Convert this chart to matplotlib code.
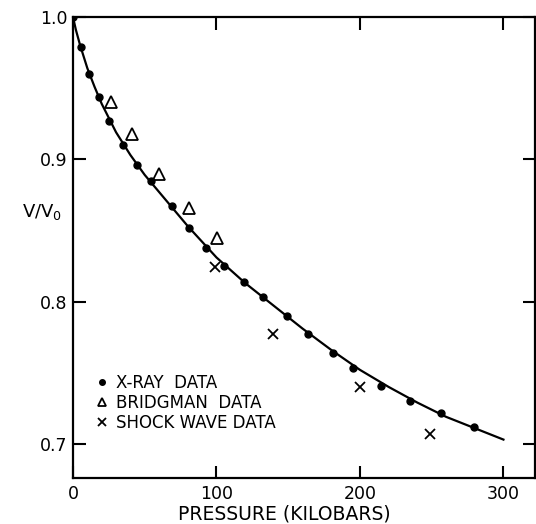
import matplotlib.pyplot as plt

# X-ray data (pressure in kilobars, V/V0)
xray_p = [0, 5.6, 11.1, 18.1, 25.1, 34.8, 44.6, 54.4, 69.0, 80.8, 92.7, 105.2,
          119.2, 132.4, 149.1, 163.8, 181.2, 195.1, 214.6, 234.8, 256.4, 279.4]
xray_v = [1.000, 0.979, 0.960, 0.944, 0.927, 0.910, 0.896, 0.885, 0.867, 0.852, 0.838, 0.825,
          0.814, 0.803, 0.790, 0.777, 0.764, 0.753, 0.741, 0.730, 0.722, 0.712]

# Bridgman data
bridg_p = [26.5, 41.1, 59.9, 80.8, 100.3]
bridg_v = [0.940, 0.918, 0.890, 0.866, 0.845]

# shock wave data
shock_p = [98.9, 139.4, 200.0, 248.8]
shock_v = [0.824, 0.777, 0.740, 0.707]

# fitted curve
curve_p = [0, 2, 5, 10, 15, 20, 30, 40, 50, 60, 70, 80, 90, 100, 120, 140,
           160, 180, 200, 220, 240, 260, 280, 300]
curve_v = [1.000, 0.991, 0.980, 0.964, 0.951, 0.939, 0.919, 0.903, 0.889, 0.877, 0.865,
           0.853, 0.842, 0.831, 0.813, 0.797, 0.781, 0.766, 0.752, 0.740, 0.729,
           0.719, 0.711, 0.703]

plt.rcParams["font.family"] = "DejaVu Sans"

fig = plt.figure(figsize=(5.36, 5.24), dpi=100)
ax = fig.add_axes([73 / 536, 46 / 524, 462 / 536, 461 / 524])

ax.plot(curve_p, curve_v, color="black", lw=1.6, zorder=2)
ax.plot(xray_p, xray_v, "o", color="black", ms=5, zorder=3, label="X-RAY  DATA")
ax.plot(bridg_p, bridg_v, "^", mfc="none", mec="black", mew=1.3, ms=8,
        zorder=3, label="BRIDGMAN  DATA")
ax.plot(shock_p, shock_v, "x", color="black", mew=1.3, ms=7, zorder=3,
        label="SHOCK WAVE DATA")

ax.set_xlim(0, 322)
ax.set_ylim(0.676, 1.0)
ax.set_xticks([0, 100, 200, 300])
ax.set_xticklabels(["0", "100", "200", "300"])
ax.set_yticks([0.7, 0.8, 0.9, 1.0])
ax.set_yticklabels(["0.7", "0.8", "0.9", "1.0"])
ax.tick_params(direction="in", length=9, width=1.5, labelsize=12.5,
               top=True, right=True, pad=4)
ax.tick_params(axis="x", pad=5)
for s in ax.spines.values():
    s.set_linewidth(1.6)

ax.set_xlabel("PRESSURE (KILOBARS)", fontsize=13.5)
ax.xaxis.set_label_coords((284 - 73) / 462, -0.058)
fig.text(42 / 536, 1 - 212 / 524, "V/V$_0$", fontsize=13, ha="center", va="center")

leg = ax.legend(loc="upper left", bbox_to_anchor=(0.05, 0.225), frameon=False,
                fontsize=12, handlelength=0.7, handletextpad=0.5, labelspacing=0.12,
                borderaxespad=0, borderpad=0, markerscale=0.8)

fig.savefig("out.png", dpi=100)
